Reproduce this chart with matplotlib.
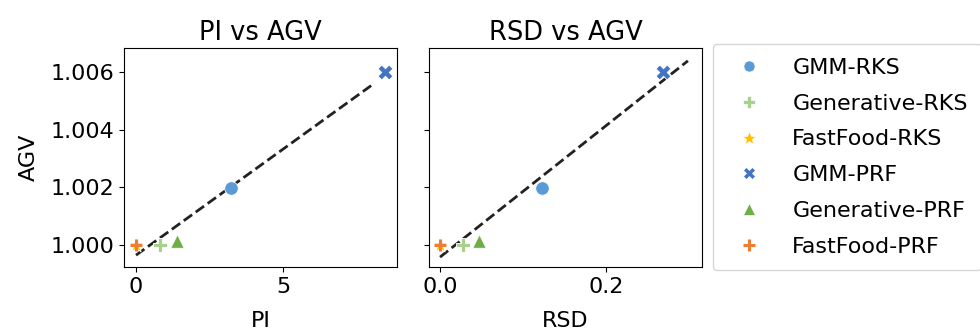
import numpy as np
import matplotlib
matplotlib.use("Agg")
import matplotlib.pyplot as plt
from matplotlib.lines import Line2D

methods = ["GMM-RKS", "Generative-RKS", "FastFood-RKS", "GMM-PRF", "Generative-PRF", "FastFood-PRF"]
pi_vals = [3.23, 0.82, 0.0, 8.47, 1.39, 0.0]
rsd_vals = [0.123, 0.0275, 0.0, 0.268, 0.0467, 0.0]
agv_vals = [1.00198, 1.00000, 1.00000, 1.00600, 1.00014, 1.00000]
colors = ["#5B9BD5", "#A9D18E", "#FFC000", "#4472C4", "#70AD47", "#ED7D31"]
markers = ["o", "P", "*", "X", "^", "+"]
fit_range_pi = [0.0, 8.0]
fit_range_rsd = [0.0, 0.298]

plt.rcParams['font.family'] = ['DejaVu Sans']
fig = plt.figure(figsize=(9.8, 3.29), dpi=100)
ax1 = fig.add_axes([0.1265, 0.1884, 0.2786, 0.6657])
ax2 = fig.add_axes([0.4378, 0.1884, 0.2786, 0.6657], sharey=ax1)

sizes = {"o": 95, "P": 100, "*": 130, "X": 115, "^": 95, "+": 70}

def panel(ax, xs, fr, title, xlabel):
    for i, m in enumerate(methods):
        mk = markers[i]
        if mk == "+":
            ax.scatter(xs[i], agv_vals[i], s=sizes[mk], marker=mk, color=colors[i],
                       linewidths=2.2, zorder=3)
        else:
            ax.scatter(xs[i], agv_vals[i], s=sizes[mk], marker=mk, color=colors[i],
                       edgecolors="white", linewidths=0.6, zorder=3)
    k, b = np.polyfit(xs, agv_vals, 1)
    xx = np.array(fr)
    ax.plot(xx, k * xx + b, "--", color="#222222", lw=2, zorder=2)
    ax.set_title(title, fontsize=18.5)
    ax.set_xlabel(xlabel, fontsize=16, labelpad=10)
    ax.tick_params(labelsize=16)

panel(ax1, pi_vals, fit_range_pi, "PI vs AGV", "PI")
panel(ax2, rsd_vals, fit_range_rsd, "RSD vs AGV", "RSD")

ax1.set_xlim(-0.41, 8.88)
ax2.set_xlim(-0.0132, 0.315)
ax1.set_ylim(0.99924, 1.00683)
ax1.set_xticks([0, 5])
ax2.set_xticks([0.0, 0.2])
ax1.set_yticks([1.000, 1.002, 1.004, 1.006])
ax1.yaxis.set_major_formatter(matplotlib.ticker.FormatStrFormatter("%.3f"))
ax2.xaxis.set_major_formatter(matplotlib.ticker.FormatStrFormatter("%.1f"))
ax1.set_ylabel("AGV", fontsize=16, labelpad=8)
ax2.tick_params(labelleft=False)

leg_ms = {"o": 8, "P": 8, "*": 10, "X": 8, "^": 8, "+": 8}
handles = []
for i, m in enumerate(methods):
    mk = markers[i]
    if mk == "+":
        h = Line2D([], [], ls="", marker=mk, color=colors[i], markersize=leg_ms[mk], mew=2.2)
    else:
        h = Line2D([], [], ls="", marker=mk, color=colors[i], markersize=leg_ms[mk],
                   markeredgecolor="white", mew=0.5)
    handles.append(h)

fig.legend(handles=handles, labels=methods, loc="upper left",
           bbox_to_anchor=(713/980, 1 - 44/329), borderaxespad=0,
           fontsize=16, labelspacing=0.71, handletextpad=0.95,
           borderpad=0.62, frameon=True)

fig.savefig("out.png", dpi=100)
